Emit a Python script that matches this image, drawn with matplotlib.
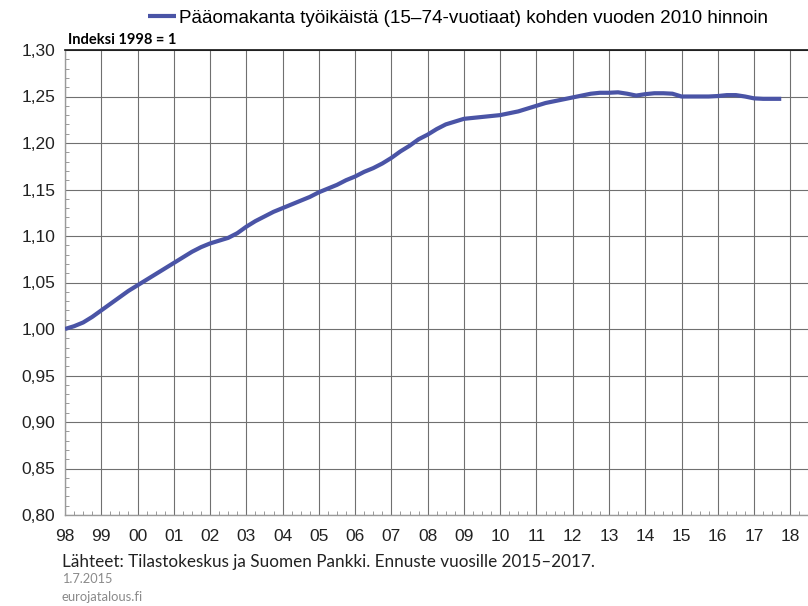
"""Pääomakanta työikäistä kohden -kuvion uudelleenpiirto (out.png)."""

import numpy as np
import matplotlib

matplotlib.use("Agg")
import matplotlib.pyplot as plt
from matplotlib.ticker import MultipleLocator, FixedLocator

# ── Data ─────────────────────────────────────────────────────────────────────
START_YEAR = 1998
# neljännesvuosittaiset arvot 1998Q1 → 2017Q4 (indeksi 1998 = 1)
values = [
    1.000, 1.003, 1.007, 1.013,
    1.020, 1.027, 1.034, 1.041,
    1.047, 1.053, 1.059, 1.065,
    1.071, 1.077, 1.083, 1.088,
    1.092, 1.095, 1.098, 1.103,
    1.110, 1.116, 1.121, 1.126,
    1.130, 1.134, 1.138, 1.142,
    1.147, 1.151, 1.155, 1.160,
    1.164, 1.169, 1.173, 1.178,
    1.184, 1.191, 1.197, 1.204,
    1.209, 1.215, 1.220, 1.223,
    1.226, 1.227, 1.228, 1.229,
    1.230, 1.232, 1.234, 1.237,
    1.240, 1.243, 1.245, 1.247,
    1.249, 1.251, 1.253, 1.254,
    1.254, 1.2545, 1.253, 1.251,
    1.2525, 1.2535, 1.2535, 1.253,
    1.250, 1.250, 1.250, 1.250,
    1.2505, 1.2515, 1.2515, 1.250,
    1.248, 1.2475, 1.2475, 1.2475,
]
year_ticks = list(range(1998, 2019))
year_labels = ["98", "99", "00", "01", "02", "03", "04", "05", "06", "07", "08",
               "09", "10", "11", "12", "13", "14", "15", "16", "17", "18"]
y_ticks = [0.80, 0.85, 0.90, 0.95, 1.00, 1.05, 1.10, 1.15, 1.20, 1.25, 1.30]
y_labels = ["0,80", "0,85", "0,90", "0,95", "1,00", "1,05", "1,10", "1,15",
            "1,20", "1,25", "1,30"]

SERIES_LABEL = "Pääomakanta työikäistä (15–74-vuotiaat) kohden vuoden 2010 hinnoin"
UNIT_TEXT = "Indeksi 1998 = 1"
SOURCE_TEXT = "Lähteet: Tilastokeskus ja Suomen Pankki. Ennuste vuosille 2015–2017."
DATE_TEXT = "1.7.2015"
SITE_TEXT = "eurojatalous.fi"

LINE_COLOR = "#4a54a6"
GRID_COLOR = "#707070"

# ── Piirto ───────────────────────────────────────────────────────────────────
plt.rcParams["font.family"] = ["Liberation Sans", "DejaVu Sans"]

x = START_YEAR + np.arange(len(values)) * 0.25

fig = plt.figure(figsize=(8.08, 6.06), dpi=100)
ax = fig.add_axes([65 / 808, 1 - 515 / 606, 1 - 65 / 808, (515 - 50) / 606])

ax.plot(x, values, color=LINE_COLOR, lw=3.0, solid_capstyle="butt",
        label=SERIES_LABEL, zorder=3)

ax.set_xlim(1998, 1998 + (808 - 64.3) / 36.3)
ax.set_ylim(0.80, 1.30)

ax.xaxis.set_major_locator(FixedLocator(year_ticks))
ax.set_xticklabels(year_labels)
ax.yaxis.set_major_locator(FixedLocator(y_ticks))
ax.set_yticklabels(y_labels)
ax.xaxis.set_minor_locator(MultipleLocator(0.25))
ax.yaxis.set_minor_locator(MultipleLocator(0.01))

ax.tick_params(axis="both", which="major", length=0, labelsize=12.5,
               colors="#222222")
ax.tick_params(axis="x", which="major", pad=10)
ax.tick_params(axis="y", which="major", pad=7)
ax.tick_params(axis="both", which="minor", direction="in", length=3,
               width=0.7, color="#999999")
ax.tick_params(axis="x", which="minor", top=False)
ax.tick_params(axis="y", which="minor", right=False)

ax.grid(True, which="major", color=GRID_COLOR, lw=0.8, zorder=1)

for side in ("left", "bottom"):
    ax.spines[side].set_color("#9a9a9a")
    ax.spines[side].set_linewidth(1.0)
ax.spines["top"].set_color("#111111")
ax.spines["top"].set_linewidth(1.2)
ax.spines["right"].set_visible(False)

fig.legend(loc="center", bbox_to_anchor=(0.567, 1 - 18 / 606), frameon=False,
           handlelength=1.5, handletextpad=0.15, fontsize=13.6)

fig.text(68 / 808, 1 - 40 / 606, UNIT_TEXT, fontsize=10.5, fontweight="bold",
         family=["Lato", "DejaVu Sans"], va="center", ha="left")
fig.text(62 / 808, 1 - 562 / 606, SOURCE_TEXT, fontsize=12.3,
         family=["Lato", "DejaVu Sans"], va="center", ha="left", color="#222222")
fig.text(62 / 808, 1 - 579 / 606, DATE_TEXT, fontsize=9.2,
         family=["Lato", "DejaVu Sans"], va="center", ha="left", color="#8a8a8a")
fig.text(62 / 808, 1 - 597 / 606, SITE_TEXT, fontsize=9.4,
         family=["Lato", "DejaVu Sans"], va="center", ha="left", color="#8a8a8a")

fig.savefig("out.png", dpi=100)
plt.close(fig)
